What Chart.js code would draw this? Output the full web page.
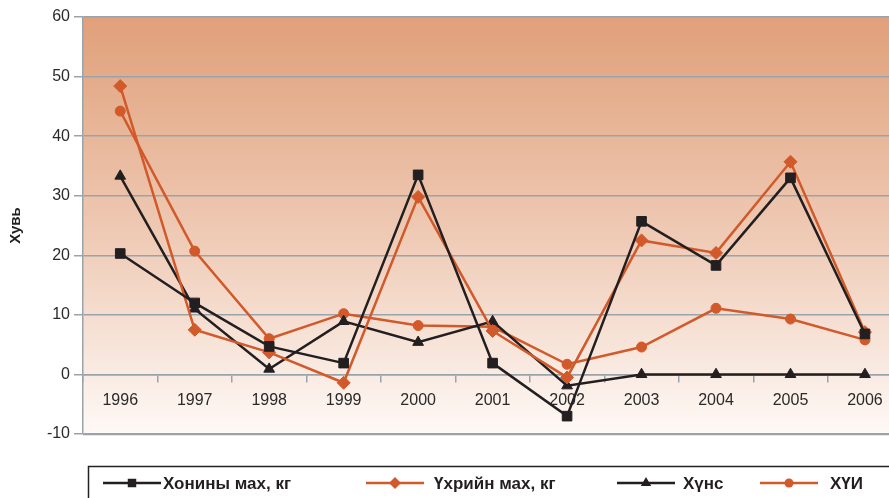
<!DOCTYPE html>
<html>
<head>
<meta charset="utf-8">
<script src="https://cdn.jsdelivr.net/npm/chart.js@4/dist/chart.umd.min.js"></script>
<style>
html,body{margin:0;padding:0;background:#fff;overflow:hidden;width:889px;height:498px;}
canvas{display:block;}
</style>
</head>
<body>
<canvas id="c" width="910" height="498"></canvas>
<script>
const years = ['1996','1997','1998','1999','2000','2001','2002','2003','2004','2005','2006'];
const sheepMeat = [20.3, 12.0, 4.7, 1.9, 33.5, 1.9, -7.0, 25.7, 18.3, 33.0, 6.8];
const beefMeat  = [48.4, 7.5, 3.7, -1.4, 29.8, 7.3, -0.5, 22.5, 20.4, 35.7, 7.1];
const food      = [33.3, 11.0, 0.9, 8.9, 5.4, 8.9, -1.9, 0.0, 0.0, 0.0, 0.0];
const cpi       = [44.2, 20.7, 6.0, 10.2, 8.2, 8.0, 1.7, 4.6, 11.1, 9.3, 5.8];
const seriesNames = ['Хонины мах, кг', 'Үхрийн мах, кг', 'Хүнс', 'ХҮИ'];
const yTitle = 'Хувь';

const BLACK = '#231f20';
const ORANGE = '#d2592a';
const GRID = '#9aa3a9';
const FONT = '"Liberation Sans", Arial, sans-serif';

function ds(label, data, color, style, r) {
  return {
    label, data,
    borderColor: color, backgroundColor: color,
    pointBackgroundColor: color, pointBorderColor: color,
    borderWidth: 2.5, pointStyle: style, pointRadius: r, pointHoverRadius: r,
    pointBorderWidth: 1, tension: 0, fill: false
  };
}

function drawMarker(ctx, style, x, y, r, color) {
  ctx.save();
  ctx.fillStyle = color;
  ctx.beginPath();
  if (style === 'rect') {
    const s = r * Math.SQRT1_2;
    ctx.rect(x - s, y - s, 2 * s, 2 * s);
  } else if (style === 'rectRot') {
    ctx.moveTo(x - r, y); ctx.lineTo(x, y - r); ctx.lineTo(x + r, y); ctx.lineTo(x, y + r); ctx.closePath();
  } else if (style === 'triangle') {
    for (let i = 0; i < 3; i++) {
      const a = -Math.PI / 2 + i * 2 * Math.PI / 3;
      const px = x + Math.cos(a) * r, py = y + Math.sin(a) * r;
      if (i === 0) ctx.moveTo(px, py); else ctx.lineTo(px, py);
    }
    ctx.closePath();
  } else {
    ctx.arc(x, y, r, 0, Math.PI * 2);
  }
  ctx.fill();
  ctx.restore();
}

const bgPlugin = {
  id: 'bg',
  beforeDraw(chart) {
    const {ctx, chartArea: a} = chart;
    const g = ctx.createLinearGradient(0, a.top, 0, a.bottom);
    g.addColorStop(0, 'rgb(224,160,122)');
    g.addColorStop(0.5, 'rgb(238,200,178)');
    g.addColorStop(1, 'rgb(254,249,246)');
    ctx.save();
    ctx.fillStyle = g;
    ctx.fillRect(a.left, a.top, a.right - a.left, a.bottom - a.top);
    ctx.strokeStyle = GRID;
    ctx.lineWidth = 1.5;
    ctx.beginPath();
    ctx.moveTo(a.left, a.bottom + 0.5);
    ctx.lineTo(a.right + 20, a.bottom + 0.5);
    ctx.stroke();
    ctx.restore();
  }
};

const legendPlugin = {
  id: 'boxLegend',
  afterDraw(chart) {
    const ctx = chart.ctx;
    ctx.save();
    ctx.strokeStyle = '#222';
    ctx.lineWidth = 1.5;
    ctx.strokeRect(88.5, 466.5, 900, 100);
    const xs = [103, 366, 617, 760];
    const textX = [163, 434, 683, 830];
    const y = 483;
    chart.data.datasets.forEach((d, i) => {
      ctx.strokeStyle = d.borderColor;
      ctx.lineWidth = 2.5;
      ctx.beginPath();
      ctx.moveTo(xs[i], y);
      ctx.lineTo(xs[i] + 58, y);
      ctx.stroke();
      drawMarker(ctx, d.pointStyle, xs[i] + 29, y, d.pointStyle === 'circle' ? 4.5 : 6, d.borderColor);
      ctx.fillStyle = '#231f20';
      ctx.font = 'bold 17px ' + FONT;
      ctx.textBaseline = 'middle';
      ctx.textAlign = 'left';
      ctx.fillText(d.label, textX[i], y + 1);
    });
    ctx.restore();
  }
};

new Chart(document.getElementById('c'), {
  type: 'line',
  data: {
    labels: years,
    datasets: [
      ds(seriesNames[0], sheepMeat, BLACK, 'rect', 6.8),
      ds(seriesNames[1], beefMeat, ORANGE, 'rectRot', 6.5),
      ds(seriesNames[2], food, BLACK, 'triangle', 6.2),
      ds(seriesNames[3], cpi, ORANGE, 'circle', 5)
    ]
  },
  options: {
    responsive: false,
    animation: false,
    events: [],
    layout: {padding: {top: 17, right: 7, bottom: 64, left: 0}},
    plugins: {legend: {display: false}, tooltip: {enabled: false}},
    scales: {
      x: {
        type: 'category',
        position: {y: 0},
        offset: true,
        grid: {offset: true, drawOnChartArea: false, drawTicks: true, tickLength: 7, color: GRID, lineWidth: 1.5},
        border: {display: true, color: GRID, width: 1.5},
        ticks: {color: '#2a2a2a', font: {family: FONT, size: 16}, padding: 10, maxRotation: 0, autoSkip: false}
      },
      y: {
        min: -10, max: 60,
        afterFit(scale) { scale.width = 83; },
        grid: {color: GRID, lineWidth: 1.5, drawTicks: true, tickLength: 9},
        border: {display: true, color: GRID, width: 1.5},
        ticks: {stepSize: 10, color: '#2a2a2a', font: {family: FONT, size: 16}, padding: 4},
        title: {display: true, text: yTitle, color: '#231f20', font: {family: FONT, size: 15, weight: 'bold'}, padding: {top: 7, bottom: 0}}
      }
    }
  },
  plugins: [bgPlugin, legendPlugin]
});
</script>
</body>
</html>
